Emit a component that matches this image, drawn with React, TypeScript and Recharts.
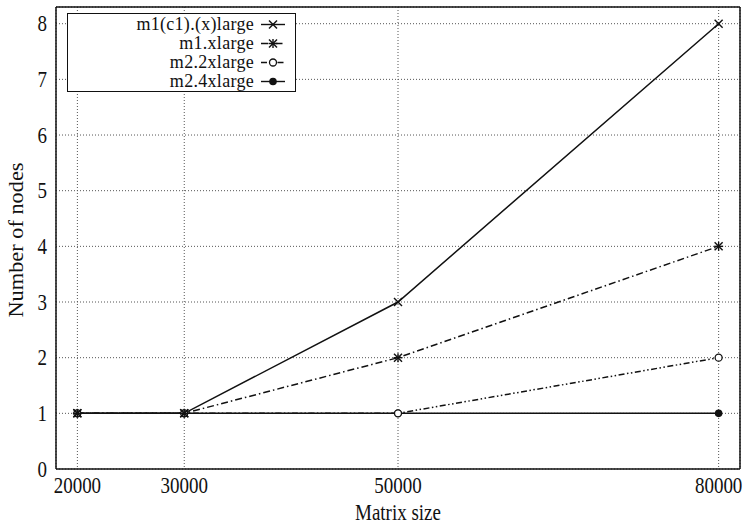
import React from 'react';
import { LineChart, Line, XAxis, YAxis, CartesianGrid, Legend } from 'recharts';

const sizes = [20000, 30000, 50000, 80000];
const m1c1 = [1, 1, 3, 8];
const m1xl = [1, 1, 2, 4];
const m22xl = [1, 1, 1, 2];
const m24xl = [1, 1, 1, 1];
const yTicks = [0, 1, 2, 3, 4, 5, 6, 7, 8];

const data = sizes.map((s, i) => ({
  size: s,
  a: m1c1[i],
  b: m1xl[i],
  c: m22xl[i],
  d: m24xl[i],
}));

const FONT = '"Liberation Serif", "Times New Roman", serif';
const INK = '#111';
const FS = 19;
// the reference text looks a little stretched vertically
const STRETCH = 1.2;

type Mk = 'cross' | 'star' | 'ring' | 'dot';

const marker = (kind: Mk, cx: number, cy: number, key?: any) => {
  const r = 4;
  if (kind === 'cross' || kind === 'star') {
    return (
      <g key={key} stroke={INK} strokeWidth={1.4}>
        <line x1={cx - r} y1={cy - r} x2={cx + r} y2={cy + r} />
        <line x1={cx - r} y1={cy + r} x2={cx + r} y2={cy - r} />
        {kind === 'star' && <line x1={cx - r - 0.5} y1={cy} x2={cx + r + 0.5} y2={cy} />}
        {kind === 'star' && <line x1={cx} y1={cy - r - 0.5} x2={cx} y2={cy + r + 0.5} />}
      </g>
    );
  }
  if (kind === 'ring') {
    return <circle key={key} cx={cx} cy={cy} r={3.5} fill="#fff" stroke={INK} strokeWidth={1.3} />;
  }
  return <circle key={key} cx={cx} cy={cy} r={3.8} fill={INK} stroke="none" />;
};

const dotFor = (kind: Mk) => (p: any) => marker(kind, p.cx, p.cy, p.index);

const seriesList = [
  { key: 'a', name: 'm1(c1).(x)large', dash: undefined, mk: 'cross' as Mk },
  { key: 'b', name: 'm1.xlarge', dash: '7 3 1.5 3', mk: 'star' as Mk },
  { key: 'c', name: 'm2.2xlarge', dash: '6 2.5 1.5 2.5 1.5 2.5', mk: 'ring' as Mk },
  { key: 'd', name: 'm2.4xlarge', dash: undefined, mk: 'dot' as Mk },
];

const XTick = (p: any) => (
  <g transform={`translate(${p.x},${p.y}) scale(1,${STRETCH})`}>
    <text textAnchor="middle" dy="0.71em" fill={INK} fontFamily={FONT} fontSize={FS}>
      {p.payload.value}
    </text>
  </g>
);

const YTick = (p: any) => (
  <g transform={`translate(${p.x},${p.y}) scale(1,${STRETCH})`}>
    <text textAnchor="end" dy="0.34em" fill={INK} fontFamily={FONT} fontSize={FS}>
      {p.payload.value}
    </text>
  </g>
);

const xLabel = (p: any) => {
  const vb = p.viewBox;
  return (
    <g transform={`translate(${vb.x + vb.width / 2},${vb.y + vb.height - 6}) scale(1,${STRETCH})`}>
      <text textAnchor="middle" fill={INK} fontFamily={FONT} fontSize={FS}>
        Matrix size
      </text>
    </g>
  );
};

const yLabel = (p: any) => {
  const vb = p.viewBox;
  const cy = vb.y + vb.height / 2 + 2;
  return (
    <text
      x={23}
      y={cy}
      transform={`rotate(-90, 23, ${cy})`}
      textAnchor="middle"
      textLength={155}
      lengthAdjust="spacingAndGlyphs"
      fill={INK}
      fontFamily={FONT}
      fontSize={21}
    >
      Number of nodes
    </text>
  );
};

const LegendBox = () => (
  <div
    style={{
      border: `1px solid ${INK}`,
      background: '#fff',
      fontFamily: FONT,
      fontSize: 18,
      color: INK,
      padding: '1px 0',
      boxSizing: 'border-box',
      width: 229,
      height: 79,
    }}
  >
    {seriesList.map((s) => (
      <div key={s.key} style={{ display: 'flex', alignItems: 'center', height: 19 }}>
        <span
          style={{
            width: 186,
            textAlign: 'right',
            lineHeight: '19px',
            display: 'inline-block',
            letterSpacing: 0.3,
          }}
        >
          {s.name}
        </span>
        <svg width={26} height={19} style={{ marginLeft: 6 }}>
          <line x1={1} y1={9.5} x2={25} y2={9.5} stroke={INK} strokeWidth={1.4} strokeDasharray={s.dash} />
          {marker(s.mk, 13, 9.5)}
        </svg>
      </div>
    ))}
  </div>
);

export default function App() {
  return (
    <div style={{ position: 'absolute', left: 0, top: 0, width: 747, height: 526, background: '#fff' }}>
      <LineChart width={747} height={526} data={data} margin={{ top: 7, right: 7, bottom: 0, left: 0 }}>
        <CartesianGrid stroke="#555" strokeDasharray="1 2" strokeWidth={1} />
        <XAxis
          dataKey="size"
          type="number"
          domain={[18000, 82000]}
          ticks={sizes}
          height={57}
          tickLine={false}
          tickSize={0}
          tickMargin={8}
          axisLine={{ stroke: INK, strokeWidth: 1.5 }}
          tick={XTick}
          label={xLabel}
        />
        <XAxis
          xAxisId="top"
          orientation="top"
          type="number"
          domain={[18000, 82000]}
          ticks={sizes}
          mirror
          tick={false}
          tickSize={6}
          stroke={INK}
          axisLine={{ stroke: INK, strokeWidth: 1.5 }}
        />
        <XAxis
          xAxisId="bottomIn"
          orientation="bottom"
          type="number"
          domain={[18000, 82000]}
          ticks={sizes}
          mirror
          tick={false}
          tickSize={6}
          stroke={INK}
          axisLine={false}
        />
        <YAxis
          type="number"
          domain={[0, 8.3]}
          ticks={yTicks}
          width={56}
          tickLine={false}
          tickSize={0}
          tickMargin={9}
          axisLine={{ stroke: INK, strokeWidth: 1.5 }}
          tick={YTick}
          label={yLabel}
        />
        <YAxis
          yAxisId="leftIn"
          orientation="left"
          type="number"
          domain={[0, 8.3]}
          ticks={yTicks}
          mirror
          tick={false}
          tickSize={6}
          stroke={INK}
          axisLine={false}
        />
        <YAxis
          yAxisId="right"
          orientation="right"
          type="number"
          domain={[0, 8.3]}
          ticks={yTicks}
          mirror
          tick={false}
          tickSize={6}
          stroke={INK}
          axisLine={{ stroke: INK, strokeWidth: 1.5 }}
        />
        <Legend
          layout="vertical"
          align="center"
          verticalAlign="middle"
          content={() => <LegendBox />}
          wrapperStyle={{ left: 67, top: 13, width: 229, height: 79 }}
        />
        {seriesList
          .slice()
          .reverse()
          .map((s) => (
            <Line
              key={s.key}
              dataKey={s.key}
              name={s.name}
              stroke={INK}
              strokeWidth={1.5}
              strokeDasharray={s.dash}
              dot={dotFor(s.mk)}
              activeDot={false}
              isAnimationActive={false}
            />
          ))}
      </LineChart>
    </div>
  );
}
